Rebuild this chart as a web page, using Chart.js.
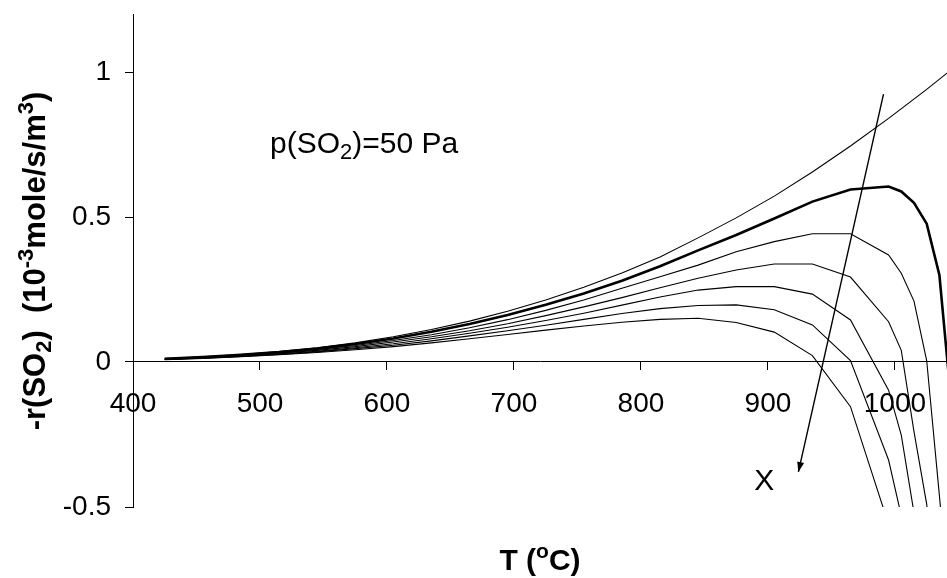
<!DOCTYPE html>
<html>
<head>
<meta charset="utf-8">
<script src="https://cdn.jsdelivr.net/npm/chart.js@4"></script>
<style>
  html, body { margin: 0; padding: 0; background: #fff; }
</style>
</head>
<body>
<canvas id="rate_chart" width="947" height="578"></canvas>
<script>
// Temperatures (deg C) where the curves have points.
const tempC = [425, 455, 485, 515, 545, 575, 605, 635, 665, 695, 725, 755, 785, 815, 845, 875, 905, 935, 965, 995, 1005, 1015, 1025, 1035, 1045];

// -r(SO2) values, one list per curve, top to bottom. null = no point there.
const curve1 = [0.012, 0.018, 0.026, 0.036, 0.049, 0.066, 0.087, 0.112, 0.141, 0.175, 0.214, 0.258, 0.307, 0.362, 0.428, 0.497, 0.572, 0.655, 0.745, 0.840, null, null, 0.940, null, 1.01];
const curve2 = [0.011, 0.017, 0.025, 0.034, 0.046, 0.062, 0.081, 0.104, 0.131, 0.162, 0.197, 0.236, 0.280, 0.330, 0.385, 0.438, 0.495, 0.553, 0.595, 0.605, 0.588, 0.549, 0.477, 0.300, -0.17];
const curve3 = [0.010, 0.016, 0.023, 0.032, 0.043, 0.057, 0.074, 0.094, 0.118, 0.146, 0.178, 0.214, 0.254, 0.294, 0.334, 0.380, 0.415, 0.442, 0.442, 0.369, 0.306, 0.210, 0.005, -0.46, -0.95];
const curve4 = [0.010, 0.015, 0.022, 0.030, 0.040, 0.053, 0.069, 0.087, 0.108, 0.132, 0.160, 0.190, 0.222, 0.256, 0.289, 0.317, 0.338, 0.338, 0.293, 0.139, 0.040, -0.24, -0.49, -0.90, null];
const curve5 = [0.009, 0.014, 0.020, 0.028, 0.037, 0.049, 0.063, 0.080, 0.099, 0.120, 0.143, 0.168, 0.196, 0.224, 0.248, 0.260, 0.260, 0.234, 0.145, -0.097, -0.252, -0.52, -0.90, null, null];
const curve6 = [0.009, 0.013, 0.019, 0.026, 0.035, 0.046, 0.058, 0.073, 0.090, 0.108, 0.127, 0.147, 0.167, 0.184, 0.195, 0.197, 0.180, 0.128, 0.005, -0.338, -0.53, -0.85, null, null, null];
const curve7 = [0.008, 0.012, 0.018, 0.025, 0.033, 0.042, 0.053, 0.066, 0.080, 0.095, 0.110, 0.124, 0.137, 0.147, 0.151, 0.136, 0.103, 0.022, -0.154, -0.56, null, null, null, null, null];

// Arrow showing increasing X (start -> end).
const arrowT = [991, 924];
const arrowR = [0.924, -0.379];

// Axis ticks.
const xTicks = [400, 500, 600, 700, 800, 900, 1000];
const yTicks = [-0.5, 0, 0.5, 1];

const FONT = "'Liberation Sans', Arial, sans-serif";

function toPoints(vals) {
    let pts = [];
    tempC.forEach((t, i) => {
        if (vals[i] !== null) pts.push({ x: t, y: vals[i] });
    });
    return pts;
}

function curveSet(vals, width) {
    return {
        data: toPoints(vals),
        borderColor: '#000',
        borderWidth: width,
        pointRadius: 0,
        tension: 0,
        fill: false
    };
}

let datasets = [
    curveSet(curve1, 1.1),
    curveSet(curve2, 2.6),
    curveSet(curve3, 1.1),
    curveSet(curve4, 1.1),
    curveSet(curve5, 1.1),
    curveSet(curve6, 1.1),
    curveSet(curve7, 1.1),
    {
        data: arrowT.map((t, i) => ({ x: t, y: arrowR[i] })),
        borderColor: '#000',
        borderWidth: 1.4,
        pointRadius: 0,
        clip: false
    }
];

// Draws text with sub/superscript parts, centred on x.
function drawRich(ctx, parts, x, y, size, bold, ratio) {
    const w = bold ? 'bold ' : '';
    const big = w + size + 'px ' + FONT;
    const small = w + Math.round(size * ratio) + 'px ' + FONT;
    let total = 0;
    parts.forEach(p => {
        ctx.font = p.s ? small : big;
        total += ctx.measureText(p.t).width;
    });
    let cx = x - total / 2;
    parts.forEach(p => {
        ctx.font = p.s ? small : big;
        let dy = 0;
        if (p.s === 'sub') dy = size * 0.2;
        if (p.s === 'sup') dy = -size * 0.4;
        ctx.fillText(p.t, cx, y + dy);
        cx += ctx.measureText(p.t).width;
    });
}

const labelsPlugin = {
    id: 'labels',
    afterDraw(chart) {
        const ctx = chart.ctx;
        const xs = chart.scales.x;
        const ys = chart.scales.y;
        ctx.save();
        ctx.fillStyle = '#000';
        ctx.textBaseline = 'alphabetic';

        // arrow head
        const pts = chart.getDatasetMeta(7).data;
        const a = Math.atan2(pts[1].y - pts[0].y, pts[1].x - pts[0].x);
        ctx.beginPath();
        ctx.moveTo(pts[1].x, pts[1].y);
        ctx.lineTo(pts[1].x - 10 * Math.cos(a) + 3.5 * Math.sin(a), pts[1].y - 10 * Math.sin(a) - 3.5 * Math.cos(a));
        ctx.lineTo(pts[1].x - 10 * Math.cos(a) - 3.5 * Math.sin(a), pts[1].y - 10 * Math.sin(a) + 3.5 * Math.cos(a));
        ctx.closePath();
        ctx.fill();

        // p(SO2)=50 Pa
        drawRich(ctx, [{ t: 'p(SO' }, { t: '2', s: 'sub' }, { t: ')=50 Pa' }],
            xs.getPixelForValue(582), ys.getPixelForValue(0.72), 30, false, 0.72);

        // X label
        ctx.font = '30px ' + FONT;
        ctx.textAlign = 'center';
        ctx.fillText('X', xs.getPixelForValue(897), ys.getPixelForValue(-0.44));
        ctx.textAlign = 'left';

        // x axis title
        drawRich(ctx, [{ t: 'T (' }, { t: 'o', s: 'sup' }, { t: 'C)' }],
            (chart.chartArea.left + chart.chartArea.right) / 2, 570, 30, true, 0.7);

        // y axis title, rotated
        ctx.translate(45, 261);
        ctx.rotate(-Math.PI / 2);
        drawRich(ctx, [{ t: '-r(SO' }, { t: '2', s: 'sub' }, { t: ')  (10' }, { t: '-3', s: 'sup' },
            { t: 'mole/s/m' }, { t: '3', s: 'sup' }, { t: ')' }], 0, 0, 31, true, 0.7);
        ctx.restore();
    }
};

const rate_chart = document.getElementById('rate_chart');

let chart = new Chart(rate_chart, {
    type: 'line',
    data: { datasets: datasets },
    options: {
        responsive: false,
        animation: false,
        devicePixelRatio: 1,
        layout: { padding: { left: 0, top: 14, right: 0, bottom: 71 } },
        plugins: {
            legend: { display: false },
            tooltip: { enabled: false }
        },
        scales: {
            x: {
                type: 'linear',
                min: 400,
                max: 1041,
                position: { y: 0 },
                afterBuildTicks: s => { s.ticks = xTicks.map(v => ({ value: v })); },
                afterFit: s => { s.paddingLeft = 0; s.paddingRight = 0; },
                grid: { drawOnChartArea: false, tickLength: 8, color: '#000' },
                border: { color: '#000', width: 1 },
                ticks: {
                    color: '#000',
                    padding: 17,
                    maxRotation: 0,
                    font: { family: FONT, size: 28 },
                    callback: v => String(v)
                }
            },
            y: {
                type: 'linear',
                min: -0.5,
                max: 1.2,
                afterBuildTicks: s => { s.ticks = yTicks.map(v => ({ value: v })); },
                afterFit: s => { s.width = 133; s.paddingTop = 0; s.paddingBottom = 0; },
                grid: { drawOnChartArea: false, tickLength: 8, color: '#000' },
                border: { color: '#000', width: 1 },
                ticks: {
                    color: '#000',
                    padding: 14,
                    font: { family: FONT, size: 28 },
                    callback: v => String(v)
                }
            }
        }
    },
    plugins: [labelsPlugin]
});
</script>
</body>
</html>
